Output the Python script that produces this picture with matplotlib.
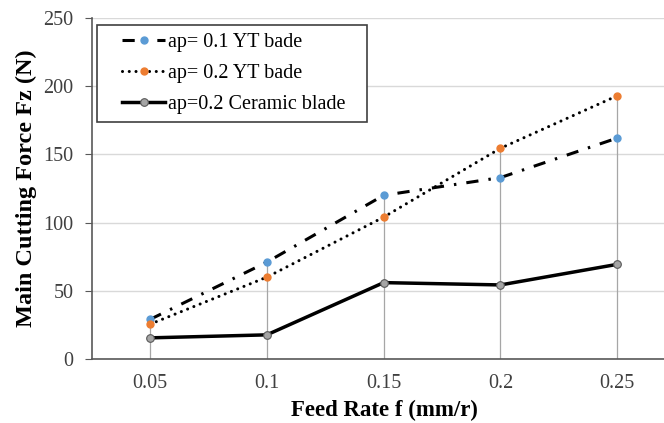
import matplotlib
matplotlib.use("Agg")
import matplotlib.pyplot as plt
from matplotlib.patches import Rectangle

feed = [0.05, 0.1, 0.15, 0.2, 0.25]
tick_labels = ["0.05", "0.1", "0.15", "0.2", "0.25"]
yt_01 = [29, 71, 120, 133, 162]
yt_02 = [25.5, 60, 104, 154.5, 193]
ceramic = [15.5, 17.7, 56, 54.3, 69.4]
names = ["ap= 0.1 YT bade", "ap= 0.2 YT bade", "ap=0.2 Ceramic blade"]
y_ticks = [0, 50, 100, 150, 200, 250]

plt.rcParams['font.family'] = ['Liberation Serif', 'DejaVu Serif']

W, H = 664, 423
fig = plt.figure(figsize=(W/100, H/100), dpi=100)
ax = fig.add_axes([92.3/W, (H-359)/H, 1 - 92.3/W, (359-18)/H])

ax.set_ylim(0, 250)
ax.set_xlim(0.0253, 0.27)
ax.set_yticks(y_ticks)
ax.set_xticks(feed)
ax.set_xticklabels(tick_labels)
ax.yaxis.grid(True, color='#d9d9d9', linewidth=1)
ax.set_axisbelow(True)

# drop lines
for x, a, b, c in zip(feed, yt_01, yt_02, ceramic):
    ax.vlines(x, 0, max(a, b, c), color='#a6a6a6', linewidth=0.9, zorder=1)

style1 = dict(color='black', linewidth=2.2, linestyle=(0, (4, 3.3, 0.8, 3.3)),
              marker='o', markersize=5, markerfacecolor='#5b9bd5', markeredgecolor='#5b9bd5')
style2 = dict(color='black', linewidth=2.2, linestyle=(0, (0.01, 2.2)),
              dash_capstyle='round', marker='o', markersize=5,
              markerfacecolor='#ed7d31', markeredgecolor='#ed7d31')
style3 = dict(color='black', linewidth=2.5, linestyle='-',
              marker='o', markersize=5.5, markerfacecolor='#a5a5a5', markeredgecolor='#595959',
              markeredgewidth=0.8)

ax.plot(feed, yt_01, label=names[0], zorder=3, **style1)
ax.plot(feed, yt_02, label=names[1], zorder=3, **style2)
ax.plot(feed, ceramic, label=names[2], zorder=3, **style3)

for s in ['top', 'right']:
    ax.spines[s].set_visible(False)
for s in ['left', 'bottom']:
    ax.spines[s].set_color('#595959')
    ax.spines[s].set_linewidth(1.2)

ax.tick_params(axis='y', length=5, color='#595959', labelsize=14.5, pad=8.5, labelcolor='#404040')
ax.tick_params(axis='x', length=0, labelsize=14.5, pad=11, labelcolor='#404040')

ax.set_xlabel("Feed Rate f (mm/r)", fontsize=16.5, fontweight='bold')
ax.set_ylabel("Main Cutting Force Fz (N)", fontsize=17.5, fontweight='bold')
ax.xaxis.set_label_coords(0.511, -0.12)
ax.yaxis.set_label_coords(-0.096, 0.5)

# legend frame
rect = Rectangle((97/W, 1 - 122/H), (367-97)/W, (122-25)/H, transform=fig.transFigure,
                 facecolor='white', edgecolor='#404040', linewidth=1.2, zorder=4)
fig.add_artist(rect)

handles, labels = ax.get_legend_handles_labels()
leg = fig.legend(handles, labels, loc='upper left', bbox_to_anchor=(122/W, 1 - 33/H),
                 bbox_transform=fig.transFigure, fontsize=14.5, frameon=False,
                 handlelength=2.15, handletextpad=0.15, borderpad=0, borderaxespad=0,
                 labelspacing=0.6)
leg.set_zorder(5)

fig.savefig("out.png", dpi=100)
